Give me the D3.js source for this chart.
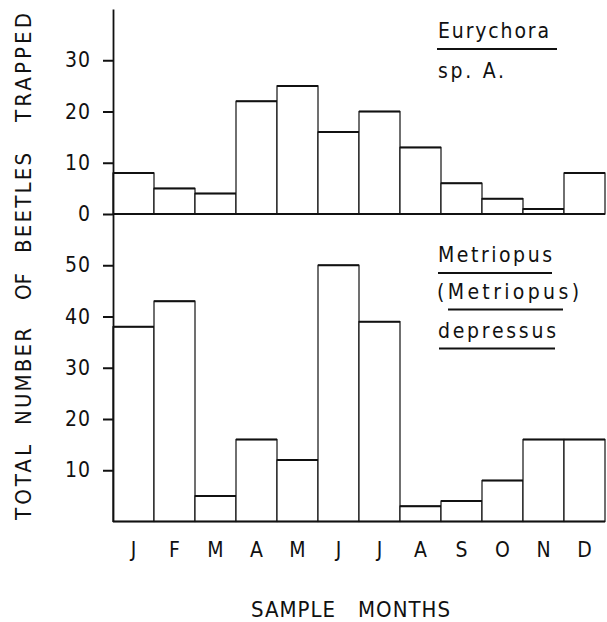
<!DOCTYPE html>
<html>
<head>
<meta charset="utf-8">
<script src="https://cdn.jsdelivr.net/npm/d3@7"></script>
<style>
  html, body { margin: 0; padding: 0; background: #fff; }
  svg { display: block; }
  text {
    font-family: "DejaVu Sans Condensed", "DejaVu Sans", sans-serif;
    font-stretch: condensed;
    fill: #111;
    white-space: pre;
  }
</style>
</head>
<body>
<svg id="chart" width="607" height="622"></svg>
<script>
// Monthly trap catches for two beetle species
const months = ["J", "F", "M", "A", "M", "J", "J", "A", "S", "O", "N", "D"];
const eurychora = [8, 5, 4, 22, 25, 16, 20, 13, 6, 3, 1, 8];
const metriopus = [38, 43, 5, 16, 12, 50, 39, 3, 4, 8, 16, 16];
const topTicks = [0, 10, 20, 30];
const bottomTicks = [10, 20, 30, 40, 50];
const yTitleWords = ["TOTAL", "NUMBER", "OF", "BEETLES", "TRAPPED"];

const svg = d3.select("#chart");
const ink = "#111";

const x = d3.scaleBand().domain(d3.range(months.length)).range([113, 605]).padding(0);
const yTop = d3.scaleLinear().domain([0, 40]).range([214, 9]);
const yBot = d3.scaleLinear().domain([0, 60]).range([521.5, 214]);

function panel(values, y) {
  const g = svg.append("g");
  g.selectAll("rect").data(values).join("rect")
    .attr("x", (d, i) => x(i))
    .attr("y", d => y(d))
    .attr("width", x.bandwidth())
    .attr("height", d => y(0) - y(d))
    .attr("fill", "#fff")
    .attr("stroke", ink)
    .attr("stroke-width", 1.2);
  // heavier top edges
  g.selectAll("line.top").data(values).join("line")
    .attr("class", "top")
    .attr("x1", (d, i) => x(i))
    .attr("x2", (d, i) => x(i) + x.bandwidth())
    .attr("y1", d => y(d))
    .attr("y2", d => y(d))
    .attr("stroke", ink)
    .attr("stroke-width", 2);
  // baseline
  g.append("line")
    .attr("x1", 113).attr("x2", 605)
    .attr("y1", y(0)).attr("y2", y(0))
    .attr("stroke", ink).attr("stroke-width", 2);
}

panel(eurychora, yTop);
panel(metriopus, yBot);

function axis(y, ticks) {
  const g = svg.append("g")
    .attr("transform", "translate(113,0)")
    .call(d3.axisLeft(y).tickValues(ticks).tickSize(10).tickSizeOuter(0).tickPadding(12).tickFormat(d3.format("d")));
  g.select(".domain").attr("stroke", ink).attr("stroke-width", 1.8);
  g.selectAll(".tick line").attr("stroke", ink).attr("stroke-width", 2);
  g.selectAll(".tick text")
    .attr("font-family", null)
    .attr("font-size", 21)
    .attr("letter-spacing", 1)
    .attr("fill", ink);
}
axis(yTop, topTicks);
axis(yBot, bottomTicks);

// month labels
svg.append("g").selectAll("text").data(months).join("text")
  .attr("x", (d, i) => x(i) + x.bandwidth() / 2)
  .attr("y", 557)
  .attr("text-anchor", "middle")
  .attr("font-size", 21)
  .text(d => d);

// x-axis title
svg.append("text")
  .attr("x", 251).attr("y", 617)
  .attr("font-size", 22)
  .attr("textLength", 199)
  .attr("lengthAdjust", "spacing")
  .text("SAMPLE   MONTHS");

// y-axis title, one word at a time along the rotated baseline
const wordStart = [0, 95, 220, 267, 398];
const wordLen = [75, 97, 27, 100, 109];
const yTitle = svg.append("g").attr("transform", "translate(31,520) rotate(-90)");
yTitle.selectAll("text").data(yTitleWords).join("text")
  .attr("x", (d, i) => wordStart[i])
  .attr("y", 0)
  .attr("font-size", 22)
  .attr("textLength", (d, i) => wordLen[i])
  .attr("lengthAdjust", "spacing")
  .text(d => d);

// species names, underlined as in taxonomic convention
function label(txt, lx, ly, len, ul) {
  svg.append("text")
    .attr("x", lx).attr("y", ly)
    .attr("font-size", 21)
    .attr("textLength", len)
    .attr("lengthAdjust", "spacing")
    .text(txt);
  if (ul) {
    svg.append("line")
      .attr("x1", ul[0]).attr("x2", ul[1])
      .attr("y1", ly + 11).attr("y2", ly + 11)
      .attr("stroke", ink).attr("stroke-width", 2);
  }
}
label("Eurychora", 438, 38, 111, [437, 557]);
label("sp. A.", 438, 78, 66, null);
label("Metriopus", 438, 262, 114, [438, 552]);
label("(Metriopus)", 437, 298.5, 142, [448, 563]);
label("depressus", 438, 337.5, 118, [439, 555]);
</script>
</body>
</html>
